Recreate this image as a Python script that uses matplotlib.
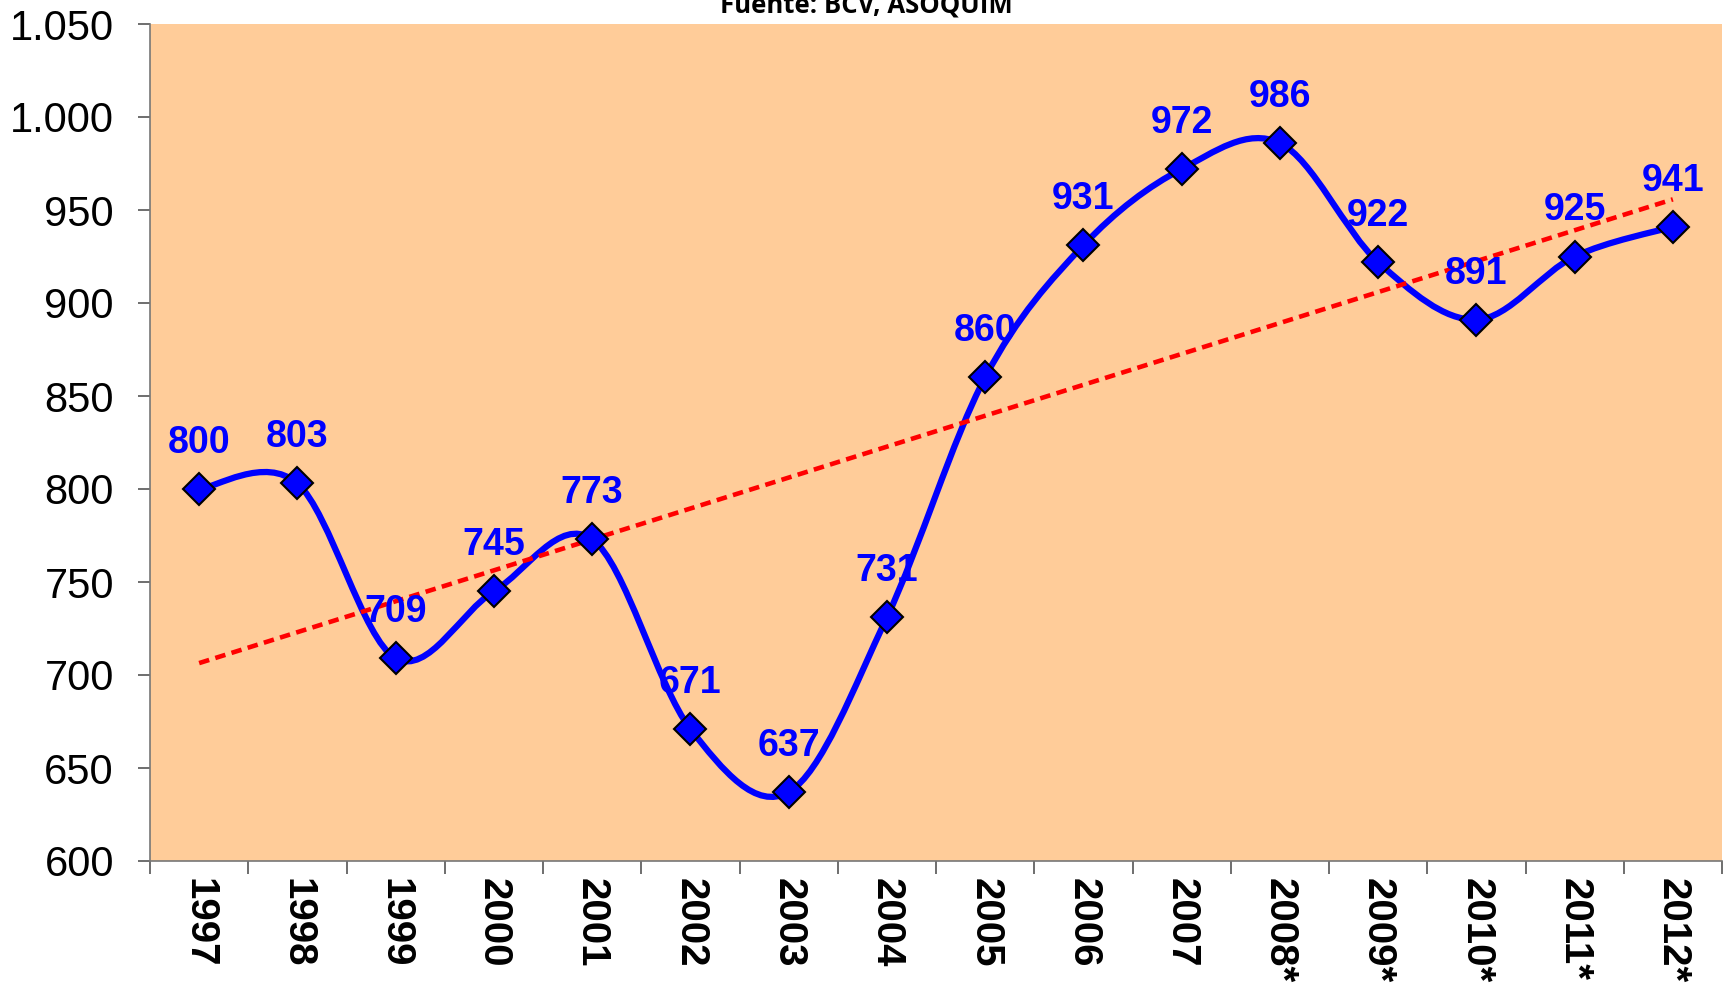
import numpy as np
import matplotlib
matplotlib.use("Agg")
import matplotlib.pyplot as plt
from matplotlib.path import Path
from matplotlib.patches import PathPatch
from matplotlib.ticker import FuncFormatter, FixedLocator

years = ["1997", "1998", "1999", "2000", "2001", "2002", "2003", "2004",
         "2005", "2006", "2007", "2008*", "2009*", "2010*", "2011*", "2012*"]
values = [800, 803, 709, 745, 773, 671, 637, 731, 860, 931, 972, 986, 922, 891, 925, 941]
y_ticks = [600, 650, 700, 750, 800, 850, 900, 950, 1000, 1050]
source = "Fuente: BCV, ASOQUIM"

W, H = 1729, 994
fig = plt.figure(figsize=(W / 100, H / 100), dpi=100)
ax = fig.add_axes([150 / W, 1 - 861 / H, (1722 - 150) / W, (861 - 24) / H])
ax.set_facecolor("#FFCC99")

x = np.arange(len(values))
y = np.array(values, dtype=float)

# Excel-style smoothed line (Catmull-Rom Bezier)
verts = [(x[0], y[0])]
codes = [Path.MOVETO]
n = len(x)
for i in range(n - 1):
    p0 = np.array([x[max(i - 1, 0)], y[max(i - 1, 0)]])
    p1 = np.array([x[i], y[i]])
    p2 = np.array([x[i + 1], y[i + 1]])
    p3 = np.array([x[min(i + 2, n - 1)], y[min(i + 2, n - 1)]])
    c1 = p1 + (p2 - p0) / 6
    c2 = p2 - (p3 - p1) / 6
    verts += [tuple(c1), tuple(c2), tuple(p2)]
    codes += [Path.CURVE4] * 3
ax.add_patch(PathPatch(Path(verts, codes), facecolor="none", edgecolor="#0000FF",
                       lw=4.5, zorder=3, capstyle="round", joinstyle="round"))

# linear trend
coef = np.polyfit(x, y, 1)
ax.plot(x, np.polyval(coef, x), color="#FF0000", lw=3.3, ls=(0, (2.3, 1.4)), zorder=4)

ax.plot(x, y, ls="none", marker="D", ms=16, mfc="#0000FF", mec="black", mew=1.5, zorder=5)

for xi, yi in zip(x, values):
    ax.annotate(str(yi), (xi, yi), xytext=(0, 26), textcoords="offset points",
                ha="center", va="baseline", color="#0000FF", fontsize=27,
                fontweight="bold", family="Liberation Sans", zorder=6)

ax.set_xlim(-0.5, n - 0.5)
ax.set_ylim(600, 1050)
ax.set_yticks(y_ticks)
ax.yaxis.set_major_formatter(FuncFormatter(lambda v, p: f"{int(v):,}".replace(",", ".")))
ax.set_xticks(x)
ax.set_xticklabels(years, rotation=270, fontsize=29, fontweight="bold", family="Liberation Sans")
ax.xaxis.set_minor_locator(FixedLocator(np.arange(-0.5, n, 1.0)))
ax.tick_params(axis="x", which="major", length=0, pad=12)
ax.tick_params(axis="x", which="minor", length=9, width=1.2, color="#555555")
ax.tick_params(axis="y", length=9, width=1.2, color="#555555", labelsize=30, pad=17)
for lab in ax.get_yticklabels():
    lab.set_family("Liberation Sans")

for s in ["top", "right"]:
    ax.spines[s].set_visible(False)
for s in ["left", "bottom"]:
    ax.spines[s].set_color("#777777")
    ax.spines[s].set_linewidth(1.2)

fig.text(866 / W, 1 - 12.5 / H, source, ha="center", va="baseline",
         fontsize=18.5, fontweight="bold", family="Open Sans")

fig.savefig("out.png", dpi=100)
